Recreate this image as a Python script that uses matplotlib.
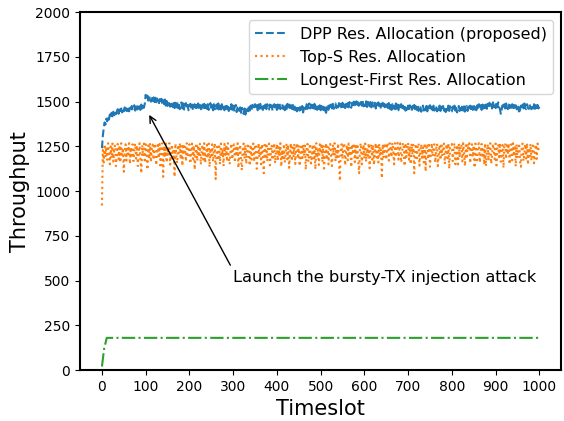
import matplotlib
matplotlib.use('Agg')
import matplotlib.pyplot as plt

# Timeslots sampled every 2 slots (0..1000)
timeslot = list(range(0, 1001, 2))

dpp_throughput = [
    1240, 1310, 1350, 1384, 1372, 1405, 1390, 1418, 1400, 1428,
    1410, 1438, 1418, 1444, 1424, 1450, 1430, 1446, 1458, 1432,
    1456, 1436, 1462, 1440, 1458, 1446, 1468, 1442, 1462, 1448,
    1472, 1446, 1464, 1450, 1476, 1452, 1468, 1480, 1450, 1472,
    1456, 1480, 1460, 1474, 1454, 1484, 1462, 1486, 1466, 1490,
    1538, 1514, 1534, 1506, 1530, 1510, 1500, 1528, 1504, 1524,
    1498, 1522, 1492, 1518, 1494, 1486, 1514, 1490, 1516, 1482,
    1508, 1486, 1512, 1478, 1504, 1476, 1502, 1484, 1472, 1500,
    1480, 1470, 1502, 1464, 1494, 1468, 1498, 1464, 1490, 1458,
    1486, 1496, 1462, 1490, 1456, 1484, 1492, 1460, 1482, 1452,
    1480, 1488, 1458, 1484, 1450, 1478, 1486, 1454, 1482, 1460,
    1490, 1456, 1482, 1462, 1450, 1484, 1458, 1488, 1452, 1480,
    1460, 1486, 1454, 1482, 1492, 1458, 1480, 1452, 1486, 1462,
    1454, 1484, 1460, 1490, 1450, 1478, 1456, 1486, 1462, 1482,
    1452, 1480, 1488, 1458, 1484, 1448, 1476, 1458, 1486, 1454,
    1478, 1450, 1474, 1482, 1442, 1470, 1476, 1448, 1468, 1438,
    1466, 1444, 1432, 1462, 1428, 1456, 1470, 1446, 1474, 1450,
    1478, 1454, 1482, 1456, 1476, 1486, 1458, 1480, 1452, 1484,
    1460, 1488, 1462, 1482, 1454, 1490, 1464, 1484, 1458, 1486,
    1462, 1456, 1484, 1460, 1480, 1450, 1478, 1486, 1458, 1482,
    1454, 1484, 1462, 1490, 1458, 1480, 1486, 1460, 1482, 1452,
    1478, 1458, 1488, 1462, 1484, 1454, 1480, 1460, 1486, 1456,
    1482, 1452, 1476, 1446, 1472, 1478, 1450, 1482, 1456, 1476,
    1440, 1468, 1480, 1458, 1486, 1460, 1482, 1490, 1462, 1484,
    1456, 1482, 1462, 1488, 1458, 1480, 1454, 1484, 1460, 1480,
    1452, 1476, 1448, 1472, 1442, 1468, 1428, 1464, 1474, 1454,
    1480, 1458, 1484, 1462, 1488, 1460, 1482, 1490, 1464, 1486,
    1468, 1492, 1466, 1488, 1462, 1494, 1470, 1490, 1464, 1496,
    1472, 1492, 1468, 1498, 1474, 1466, 1494, 1472, 1500, 1470,
    1492, 1502, 1472, 1496, 1476, 1470, 1498, 1478, 1504, 1474,
    1496, 1476, 1502, 1470, 1494, 1506, 1474, 1498, 1468, 1492,
    1500, 1472, 1494, 1462, 1490, 1468, 1496, 1464, 1488, 1458,
    1484, 1494, 1462, 1488, 1466, 1458, 1486, 1464, 1492, 1460,
    1482, 1454, 1486, 1462, 1480, 1458, 1490, 1460, 1484, 1452,
    1480, 1458, 1486, 1454, 1478, 1460, 1482, 1450, 1476, 1456,
    1478, 1452, 1480, 1458, 1448, 1476, 1454, 1482, 1450, 1474,
    1454, 1480, 1448, 1472, 1476, 1444, 1470, 1478, 1450, 1472,
    1452, 1476, 1446, 1474, 1454, 1480, 1448, 1472, 1452, 1478,
    1450, 1472, 1476, 1446, 1470, 1452, 1478, 1448, 1472, 1454,
    1476, 1450, 1470, 1442, 1472, 1452, 1478, 1448, 1474, 1454,
    1446, 1472, 1452, 1478, 1450, 1470, 1440, 1468, 1476, 1448,
    1472, 1452, 1480, 1450, 1474, 1444, 1470, 1476, 1448, 1472,
    1452, 1478, 1450, 1474, 1454, 1482, 1456, 1476, 1452, 1480,
    1458, 1486, 1460, 1480, 1454, 1484, 1462, 1490, 1464, 1484,
    1460, 1488, 1466, 1494, 1468, 1486, 1462, 1496, 1470, 1490,
    1464, 1494, 1468, 1496, 1472, 1458, 1432, 1456, 1480, 1462,
    1486, 1462, 1490, 1468, 1458, 1484, 1464, 1492, 1466, 1486,
    1460, 1482, 1454, 1480, 1462, 1448, 1472, 1434, 1456, 1478,
    1458, 1484, 1462, 1490, 1464, 1458, 1486, 1466, 1460, 1484,
    1464, 1458, 1482, 1462, 1486, 1460, 1480, 1456, 1482, 1462,
    1472,
]

tops_throughput = [
    920, 1230, 1160, 1262, 1190, 1248, 1175, 1268, 1205, 1150,
    1250, 1185, 1266, 1165, 1232, 1258, 1140, 1215, 1264, 1178,
    1255, 1160, 1268, 1198, 1240, 1108, 1222, 1262, 1170, 1250,
    1206, 1268, 1152, 1244, 1186, 1262, 1168, 1225, 1266, 1182,
    1254, 1140, 1210, 1268, 1174, 1100, 1258, 1196, 1266, 1158,
    1262, 1218, 1120, 1255, 1180, 1268, 1162, 1236, 1260, 1175,
    1250, 1266, 1145, 1210, 1258, 1184, 1264, 1130, 1228, 1268,
    1080, 1252, 1190, 1266, 1160, 1244, 1200, 1268, 1148, 1222,
    1260, 1172, 1238, 1080, 1266, 1196, 1156, 1258, 1214, 1268,
    1178, 1252, 1142, 1264, 1204, 1248, 1166, 1268, 1188, 1236,
    1262, 1154, 1226, 1266, 1180, 1254, 1120, 1210, 1268, 1168,
    1256, 1192, 1264, 1148, 1230, 1260, 1176, 1268, 1158, 1216,
    1258, 1184, 1266, 1135, 1240, 1198, 1262, 1164, 1228, 1268,
    1067, 1218, 1262, 1172, 1250, 1150, 1266, 1194, 1236, 1140,
    1264, 1202, 1258, 1166, 1268, 1186, 1150, 1232, 1266, 1178,
    1248, 1262, 1160, 1240, 1196, 1268, 1130, 1214, 1260, 1170,
    1117, 1244, 1266, 1182, 1258, 1152, 1224, 1268, 1194, 1142,
    1260, 1176, 1234, 1266, 1164, 1248, 1262, 1125, 1206, 1268,
    1188, 1256, 1150, 1264, 1212, 1100, 1258, 1180, 1268, 1166,
    1250, 1266, 1144, 1202, 1260, 1174, 1238, 1268, 1156, 1226,
    1262, 1170, 1246, 1196, 1268, 1138, 1230, 1184, 1264, 1160,
    1216, 1266, 1178, 1258, 1130, 1204, 1268, 1168, 1244, 1190,
    1264, 1152, 1236, 1268, 1182, 1256, 1140, 1212, 1262, 1172,
    1258, 1198, 1268, 1120, 1240, 1264, 1164, 1226, 1266, 1154,
    1192, 1260, 1170, 1250, 1122, 1268, 1186, 1234, 1146, 1262,
    1210, 1266, 1162, 1256, 1126, 1222, 1268, 1176, 1248, 1150,
    1250, 1264, 1184, 1140, 1260, 1200, 1268, 1166, 1238, 1190,
    1266, 1158, 1057, 1228, 1262, 1180, 1256, 1268, 1144, 1214,
    1258, 1172, 1266, 1196, 1242, 1134, 1262, 1206, 1268, 1162,
    1252, 1186, 1264, 1170, 1100, 1246, 1268, 1150, 1220, 1260,
    1182, 1266, 1164, 1240, 1198, 1268, 1128, 1232, 1262, 1176,
    1258, 1146, 1224, 1268, 1188, 1250, 1160, 1264, 1204, 1236,
    1072, 1262, 1190, 1268, 1232, 1176, 1270, 1250, 1170, 1268,
    1250, 1190, 1270, 1232, 1150, 1268, 1190, 1250, 1270, 1176,
    1232, 1268, 1160, 1190, 1270, 1250, 1140, 1268, 1190, 1232,
    1270, 1176, 1250, 1150, 1266, 1204, 1258, 1100, 1218, 1264,
    1170, 1256, 1268, 1142, 1226, 1262, 1186, 1248, 1160, 1268,
    1110, 1238, 1264, 1178, 1258, 1136, 1212, 1268, 1194, 1256,
    1262, 1160, 1230, 1266, 1140, 1206, 1258, 1174, 1268, 1196,
    1254, 1266, 1152, 1220, 1262, 1184, 1268, 1125, 1242, 1256,
    1264, 1168, 1236, 1268, 1150, 1200, 1258, 1136, 1266, 1188,
    1250, 1262, 1166, 1268, 1214, 1140, 1256, 1180, 1264, 1226,
    1268, 1156, 1238, 1262, 1190, 1256, 1130, 1266, 1208, 1172,
    1258, 1268, 1160, 1228, 1264, 1186, 1246, 1148, 1268, 1140,
    1216, 1262, 1170, 1256, 1268, 1152, 1200, 1264, 1232, 1178,
    1266, 1144, 1240, 1262, 1190, 1268, 1164, 1222, 1258, 1130,
    1250, 1268, 1180, 1256, 1206, 1266, 1150, 1236, 1262, 1172,
    1268, 1196, 1256, 1138, 1262, 1184, 1230, 1268, 1164, 1136,
    1258, 1266, 1168, 1214, 1262, 1182, 1268, 1148, 1240, 1196,
    1264, 1170, 1226, 1268, 1156, 1208, 1260, 1180, 1266, 1234,
    1236,
]

# Longest-First ramps up then stays flat
lf_timeslot = [0, 5, 11, 1000]
lf_throughput = [20, 120, 180, 180]

labels = ['DPP Res. Allocation (proposed)', 'Top-S Res. Allocation',
          'Longest-First Res. Allocation']

fig = plt.figure(figsize=(5.64, 4.21), dpi=100)
ax = fig.add_axes([0.142, 0.121, 0.853, 0.850])

ax.plot(timeslot, dpp_throughput, '--', color='#1f77b4', lw=1.5, label=labels[0])
ax.plot(timeslot, tops_throughput, ':', color='#ff7f0e', lw=1.5, label=labels[1])
ax.plot(lf_timeslot, lf_throughput, '-.', color='#2ca02c', lw=1.5, label=labels[2])

ax.annotate('Launch the bursty-TX injection attack',
            xy=(105, 1440), xytext=(300, 490),
            fontsize=11.7, ha='left', va='baseline',
            arrowprops=dict(arrowstyle='->', color='black', lw=1,
                            relpos=(0, 1)))

ax.set_xlim(-50, 1050)
ax.set_ylim(0, 2000)
ax.set_xticks(range(0, 1001, 100))
ax.set_yticks(range(0, 2001, 250))
ax.tick_params(labelsize=10)
ax.set_xlabel('Timeslot', fontsize=15)
ax.set_ylabel('Throughput', fontsize=15)
for s in ax.spines.values():
    s.set_linewidth(1.5)

ax.legend(loc='upper right', fontsize=11.5)

fig.savefig('out.png', dpi=100)
